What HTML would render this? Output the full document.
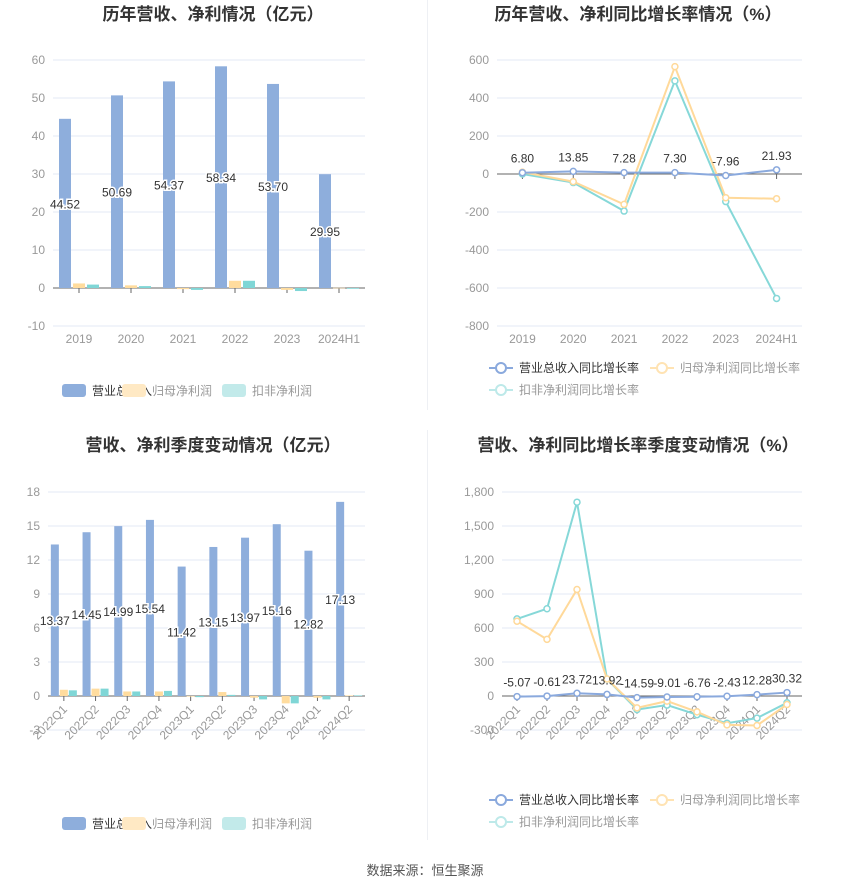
<!DOCTYPE html>
<html><head><meta charset="utf-8">
<style>
html,body{margin:0;padding:0;background:#fff;}
svg{display:block;font-family:"Liberation Sans","Noto Sans CJK SC",sans-serif;}
</style></head>
<body>
<svg id="root" width="850" height="891" viewBox="0 0 850 891" xmlns="http://www.w3.org/2000/svg">
<line x1="427.5" y1="0" x2="427.5" y2="410" stroke="#eef0f4"/>
<line x1="427.5" y1="430" x2="427.5" y2="840" stroke="#eef0f4"/>
<text x="213" y="20" text-anchor="middle" font-size="17" font-weight="bold" fill="#333">历年营收、净利情况（亿元）</text>
<text x="638" y="20" text-anchor="middle" font-size="17" font-weight="bold" fill="#333">历年营收、净利同比增长率情况（%）</text>
<text x="213" y="451" text-anchor="middle" font-size="17" font-weight="bold" fill="#333">营收、净利季度变动情况（亿元）</text>
<text x="638" y="451" text-anchor="middle" font-size="17" font-weight="bold" fill="#333">营收、净利同比增长率季度变动情况（%）</text>
<text x="425" y="875" text-anchor="middle" font-size="13" fill="#555">数据来源：恒生聚源</text>
</svg>
<script>
// Chart 1 data
const c1Cats = ["2019","2020","2021","2022","2023","2024H1"];
const c1Rev = [44.52,50.69,54.37,58.34,53.70,29.95];
const c1Net = [1.2,0.7,-0.3,1.9,-0.5,0.05];
const c1Ded = [0.9,0.5,-0.5,1.9,-0.8,-0.2];
const c1Ticks = [60,50,40,30,20,10,0,-10];
// Chart 2 data
const c2Cats = ["2019","2020","2021","2022","2023","2024H1"];
const c2Rev = [6.80,13.85,7.28,7.30,-7.96,21.93];
const c2Net = [10,-40,-160,565,-125,-130];
const c2Ded = [0,-45,-195,490,-145,-655];
const c2Ticks = [600,400,200,0,-200,-400,-600,-800];
// Chart 3 data
const c3Cats = ["2022Q1","2022Q2","2022Q3","2022Q4","2023Q1","2023Q2","2023Q3","2023Q4","2024Q1","2024Q2"];
const c3Rev = [13.37,14.45,14.99,15.54,11.42,13.15,13.97,15.16,12.82,17.13];
const c3Net = [0.55,0.65,0.4,0.4,-0.05,0.35,-0.15,-0.65,-0.15,0.05];
const c3Ded = [0.5,0.65,0.4,0.45,-0.1,0.1,-0.3,-0.65,-0.3,0.05];
const c3Ticks = [18,15,12,9,6,3,0,-3];
// Chart 4 data
const c4Cats = ["2022Q1","2022Q2","2022Q3","2022Q4","2023Q1","2023Q2","2023Q3","2023Q4","2024Q1","2024Q2"];
const c4Rev = [-5.07,-0.61,23.72,13.92,-14.59,-9.01,-6.76,-2.43,12.28,30.32];
const c4Net = [660,500,940,150,-105,-45,-140,-255,-260,-75];
const c4Ded = [680,770,1710,150,-120,-80,-165,-240,-195,-60];
const c4Ticks = [1800,1500,1200,900,600,300,0,-300];

const NS="http://www.w3.org/2000/svg";
const root=document.getElementById('root');
const BLUE="#8eaedc",ORANGE="#ffdc9e",TEAL="#7fd6d6";
const BLUEL="#8aa9dd",ORANGEL="#ffd99a",TEALL="#86d8d8";
function mk(tag,attrs,parent){const e=document.createElementNS(NS,tag);for(const k in attrs)e.setAttribute(k,attrs[k]);(parent||root).appendChild(e);return e;}
function fmt(v){return Math.abs(v)>=1000?v.toLocaleString('en-US'):String(v);}

function axes(cfg){
  const {x0,x1,yTop,yBot,vTop,vBot,ticks,cats,rot,name}=cfg;
  const y=v=>yTop+(vTop-v)/(vTop-vBot)*(yBot-yTop);
  const band=(x1-x0)/cats.length;
  const cx=i=>x0+band*(i+0.5);
  ticks.forEach(t=>{
    const g=mk('line',{x1:x0,x2:x1,y1:y(t),y2:y(t),stroke:t===0?'#666':'#e3e8f5','stroke-width':1});
    
    
    const tx=mk('text',{x:x0-8,y:y(t)+4,'text-anchor':'end','font-size':12,fill:'#999'});
    tx.textContent=fmt(t);
    
    
  });
  cats.forEach((c,i)=>{
    const tk=mk('line',{x1:cx(i),x2:cx(i),y1:y(0),y2:y(0)+5,stroke:'#666'});
    
    
    let tx;
    if(rot){
      const ly=y(0)+14;
      tx=mk('text',{x:cx(i)+4,y:ly,'text-anchor':'end','font-size':12,fill:'#999',transform:`rotate(-45 ${cx(i)+4} ${ly})`});
    } else {
      tx=mk('text',{x:cx(i),y:yBot+17,'text-anchor':'middle','font-size':12,fill:'#999'});
    }
    tx.textContent=c;
    
    
  });
  return {y,cx,band};
}

function bars(cfg,rev,net,ded,bw,gap){
  const A=axes(cfg);const name=cfg.name;
  const series=[[rev,BLUE,'revenue'],[net,ORANGE,'net-profit'],[ded,TEAL,'deducted-profit']];
  cfg.cats.forEach((c,i)=>{
    series.forEach((s,k)=>{
      const v=s[0][i];
      const x=A.cx(i)+(k-1)*(bw+gap)-bw/2;
      const y0=A.y(0),yv=A.y(v);
      const r=mk('rect',{x:x,y:Math.min(y0,yv),width:bw,height:Math.max(Math.abs(yv-y0),0.5),fill:s[1]});
      
      
    });
    const v=rev[i];
    const lx=A.cx(i)-(bw+gap);
    const ly=A.y(v/2)+5;
    const t=mk('text',{x:lx,y:ly,'text-anchor':'middle','font-size':12,fill:'#333',stroke:'#fff','stroke-width':3,'paint-order':'stroke'});
    t.textContent=v.toFixed(2);
    
    
  });
}

function lines(cfg,rev,net,ded){
  const A=axes(cfg);const name=cfg.name;
  const series=[[ded,TEALL,'deducted-growth'],[net,ORANGEL,'net-growth'],[rev,BLUEL,'revenue-growth']];
  series.forEach(s=>{
    const pts=s[0].map((v,i)=>A.cx(i)+','+A.y(v)).join(' ');
    const p=mk('polyline',{points:pts,fill:'none',stroke:s[1],'stroke-width':2});
    
    
    s[0].forEach((v,i)=>{
      const c=mk('circle',{cx:A.cx(i),cy:A.y(v),r:3,fill:'#fff',stroke:s[1],'stroke-width':1.5});
      
      
    });
  });
  rev.forEach((v,i)=>{
    const t=mk('text',{x:A.cx(i),y:A.y(v)-10,'text-anchor':'middle','font-size':12,fill:'#333'});
    t.textContent=v.toFixed(2);
    
    
  });
}

function barLegend(y,prefix){
  const items=[[62,BLUE,'营业总收入','#333'],[122,'#ffe9c4','归母净利润','#999'],[222,'#c2eaea','扣非净利润','#999']];
  items.forEach((it,k)=>{
    const r=mk('rect',{x:it[0],y:y-6,width:24,height:13,rx:3,fill:it[1]});
    
    
    const t=mk('text',{x:it[0]+30,y:y+5,'font-size':12,fill:it[3]});
    t.textContent=it[2];
    
    
  });
}
function lineLegend(y,prefix){
  const items=[[489,y,BLUEL,'营业总收入同比增长率','#333'],[650,y,'#ffe3b3','归母净利润同比增长率','#999'],[489,y+22,'#bde9e9','扣非净利润同比增长率','#999']];
  items.forEach((it,k)=>{
    const l=mk('line',{x1:it[0],x2:it[0]+24,y1:it[1],y2:it[1],stroke:it[2],'stroke-width':2});
    
    
    const c=mk('circle',{cx:it[0]+12,cy:it[1],r:5,fill:'#fff',stroke:it[2],'stroke-width':2});
    
    
    const t=mk('text',{x:it[0]+30,y:it[1]+4,'font-size':12,fill:it[4]});
    t.textContent=it[3];
    
    
  });
}

bars({x0:53,x1:365,yTop:60,yBot:326,vTop:60,vBot:-10,ticks:c1Ticks,cats:c1Cats,rot:false,name:'annual-amount'},c1Rev,c1Net,c1Ded,12,2);
lines({x0:497,x1:802,yTop:60,yBot:326,vTop:600,vBot:-800,ticks:c2Ticks,cats:c2Cats,rot:false,name:'annual-growth'},c2Rev,c2Net,c2Ded);
bars({x0:48,x1:365,yTop:492,yBot:730,vTop:18,vBot:-3,ticks:c3Ticks,cats:c3Cats,rot:true,name:'quarterly-amount'},c3Rev,c3Net,c3Ded,8,1);
lines({x0:502,x1:802,yTop:492,yBot:730,vTop:1800,vBot:-300,ticks:c4Ticks,cats:c4Cats,rot:true,name:'quarterly-growth'},c4Rev,c4Net,c4Ded);
barLegend(390,'annual-amount');
lineLegend(368,'annual-growth');
barLegend(823,'quarterly-amount');
lineLegend(800,'quarterly-growth');
</script>
</body></html>
